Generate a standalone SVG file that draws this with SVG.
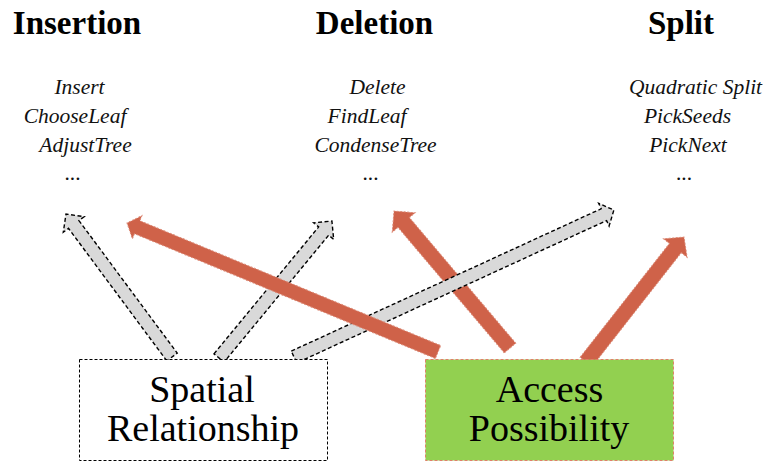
<svg xmlns="http://www.w3.org/2000/svg" width="768" height="463" viewBox="0 0 768 463">
  <style>
    .head { font-weight: bold; font-size: 33px; fill: #000; text-anchor: middle; }
    .op { font-style: italic; font-size: 21.5px; fill: #111; text-anchor: middle; }
    .lbl { font-size: 38px; fill: #000; text-anchor: middle; }
    .gray { fill: #D9D9D9; stroke: #000; stroke-width: 1.4; stroke-dasharray: 4 2.5; stroke-linejoin: miter; }
    .red { fill: #CF6249; stroke: #DC8A76; stroke-width: 1; stroke-dasharray: 2 1.5; }
  </style>

  <rect width="768" height="463" fill="#fff"/>

  <!-- Category headings with their operations -->
  <g id="insertion" font-family="Liberation Serif, DejaVu Serif, serif">
    <text class="head" x="77" y="34">Insertion</text>
    <text class="op" x="79.5" y="94">Insert</text>
    <text class="op" x="75" y="123">ChooseLeaf</text>
    <text class="op" x="85.5" y="152">AdjustTree</text>
    <text class="op" x="73" y="180">...</text>
  </g>
  <g id="deletion" font-family="Liberation Serif, DejaVu Serif, serif">
    <text class="head" x="374.5" y="34">Deletion</text>
    <text class="op" x="377.5" y="94">Delete</text>
    <text class="op" x="367" y="123">FindLeaf</text>
    <text class="op" x="375.5" y="152">CondenseTree</text>
    <text class="op" x="371" y="180">...</text>
  </g>
  <g id="split" font-family="Liberation Serif, DejaVu Serif, serif">
    <text class="head" x="681" y="34">Split</text>
    <text class="op" x="695.5" y="94">Quadratic Split</text>
    <text class="op" x="687.5" y="123">PickSeeds</text>
    <text class="op" x="688" y="152">PickNext</text>
    <text class="op" x="684.5" y="180">...</text>
  </g>

  <!-- Block arrows, drawn along +x then placed with translate/rotate -->
  <g id="connectors">
    <polygon class="gray" transform="translate(172,357) rotate(-126.55)" points="0,-6.5 165,-6.5 165,-13 178,0 165,13 165,6.5 0,6.5"/>
    <polygon class="gray" transform="translate(219,358) rotate(-50.5)" points="0,-6.5 164.5,-6.5 164.5,-13 177.5,0 164.5,13 164.5,6.5 0,6.5"/>
    <polygon class="red" transform="translate(510,348) rotate(-130.26)" points="0,-7.5 164.5,-7.5 164.5,-15 179.5,0 164.5,15 164.5,7.5 0,7.5"/>
    <polygon class="gray" transform="translate(294,357) rotate(-24.67)" points="0,-6.5 341,-6.5 341,-12.5 352,0 341,12.5 341,6.5 0,6.5"/>
    <polygon class="red" transform="translate(438,352) rotate(-157.47)" points="0,-7 325.7,-7 325.7,-12.5 336.7,0 325.7,12.5 325.7,7 0,7"/>
    <polygon class="red" transform="translate(586,362) rotate(-51.9)" points="0,-7.5 144.8,-7.5 144.8,-15 158.8,0 144.8,15 144.8,7.5 0,7.5"/>
  </g>

  <!-- Source nodes -->
  <g id="spatial-relationship" font-family="Liberation Serif, DejaVu Serif, serif">
    <rect x="79.5" y="359.5" width="248" height="101" fill="#fff" stroke="#000" stroke-width="1" stroke-dasharray="3 2"/>
    <text class="lbl" x="202" y="402">Spatial</text>
    <text class="lbl" x="203" y="441">Relationship</text>
  </g>
  <g id="access-possibility" font-family="Liberation Serif, DejaVu Serif, serif">
    <rect x="425.5" y="359.5" width="248" height="101" fill="#92D050" stroke="#E0806A" stroke-width="1" stroke-dasharray="3 2"/>
    <text class="lbl" x="549.5" y="402">Access</text>
    <text class="lbl" x="549" y="441">Possibility</text>
  </g>
</svg>
